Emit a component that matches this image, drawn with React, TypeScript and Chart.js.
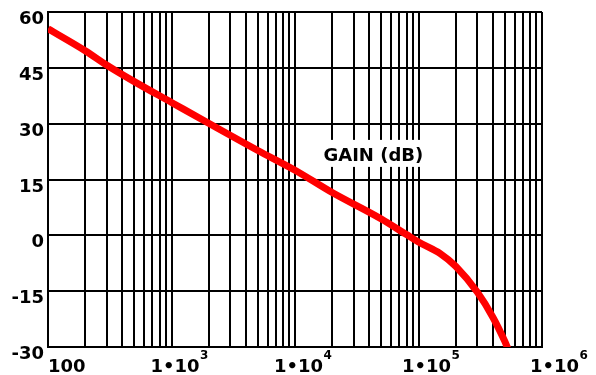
import React, { useEffect, useRef } from "react";
import { Chart, registerables } from "chart.js";

Chart.register(...registerables);

// Frequency (Hz) and gain (dB)
const FREQ = [100, 200, 300, 500, 1000, 2000, 5000, 10000, 20000, 50000, 80000, 100000, 150000, 200000, 300000, 400000, 500000, 530000];
const GAIN_DB = [55.5, 49.6, 45.7, 41.3, 35.7, 30.1, 22.8, 17.5, 11.5, 4.4, 0.2, -1.8, -4.9, -8.3, -15.3, -22, -28.5, -30.5];

// Axis tick labels
const X_TICK_VALUES = [100, 1000, 10000, 100000, 1000000];
const X_TICK_BASE = ["100", "1\u202210", "1\u202210", "1\u202210", "1\u202210"];
const X_TICK_EXP = ["", "3", "4", "5", "6"];
const Y_TICK_VALUES = [60, 45, 30, 15, 0, -15, -30];

const SERIES_LABEL = "GAIN (dB)";
const SERIES_LABEL_AT = { f: 17000, db: 20 };

const FONT = "'DejaVu Sans', Verdana, sans-serif";

export default function App() {
  const ref = useRef<HTMLCanvasElement | null>(null);

  useEffect(() => {
    const canvas = ref.current;
    if (!canvas) return;

    const gridValues: number[] = [];
    for (let e = 2; e < 6; e++) {
      for (let m = 1; m < 10; m++) gridValues.push(m * Math.pow(10, e));
    }
    gridValues.push(1e6);

    const labelPlugin = {
      id: "labels",
      afterDraw(chart: any) {
        const ctx = chart.ctx;
        const xs = chart.scales.x;
        const ys = chart.scales.y;
        ctx.save();
        ctx.fillStyle = "#000";
        // y labels
        ctx.font = `bold 18px ${FONT}`;
        ctx.textAlign = "right";
        ctx.textBaseline = "alphabetic";
        Y_TICK_VALUES.forEach((v) => {
          ctx.fillText(String(v), 44, ys.getPixelForValue(v) + 12);
        });
        // x labels
        const startOffsets = [0, -21, -21, -16.5, -12];
        ctx.textAlign = "left";
        X_TICK_VALUES.forEach((v, i) => {
          const px = xs.getPixelForValue(v) + startOffsets[i];
          const base = chart.chartArea.bottom + 25;
          ctx.font = `bold 18px ${FONT}`;
          ctx.fillText(X_TICK_BASE[i], px, base);
          const w = ctx.measureText(X_TICK_BASE[i]).width;
          if (X_TICK_EXP[i]) {
            ctx.font = `bold 12px ${FONT}`;
            ctx.fillText(X_TICK_EXP[i], px + w + 0.5, base - 13);
          }
        });
        // series label with white backing
        const lx = xs.getPixelForValue(SERIES_LABEL_AT.f);
        const ly = ys.getPixelForValue(SERIES_LABEL_AT.db);
        ctx.font = `bold 18px ${FONT}`;
        const tw = ctx.measureText(SERIES_LABEL).width;
        ctx.fillStyle = "#fff";
        ctx.fillRect(lx - 3, ly - 21, tw + 6, 27);
        ctx.fillStyle = "#000";
        ctx.fillText(SERIES_LABEL, lx, ly);
        ctx.restore();
      },
    };

    const chart = new Chart(canvas, {
      type: "line",
      data: {
        datasets: [
          {
            label: SERIES_LABEL,
            data: FREQ.map((f, i) => ({ x: f, y: GAIN_DB[i] })),
            borderColor: "#ff0000",
            backgroundColor: "#ff0000",
            borderWidth: 7,
            pointRadius: 0,
            cubicInterpolationMode: "monotone",
            fill: false,
          },
        ],
      },
      options: {
        responsive: false,
        animation: false,
        devicePixelRatio: 1,
        layout: { padding: { left: 48, top: 12, right: 54, bottom: 28 } },
        plugins: { legend: { display: false }, tooltip: { enabled: false } },
        scales: {
          x: {
            type: "logarithmic",
            min: 100,
            max: 1000000,
            afterBuildTicks: (scale: any) => {
              scale.ticks = gridValues.map((v) => ({ value: v }));
            },
            ticks: { display: false },
            grid: { color: "#000", lineWidth: 2, drawTicks: false },
            border: { color: "#000", width: 2 },
          },
          y: {
            type: "linear",
            min: -30,
            max: 60,
            ticks: { display: false, stepSize: 15 },
            grid: { color: "#000", lineWidth: 2, drawTicks: false },
            border: { color: "#000", width: 2 },
          },
        },
      },
      plugins: [labelPlugin],
    } as any);

    return () => chart.destroy();
  }, []);

  return (
    <div style={{ position: "fixed", left: 0, top: 0, width: 596, height: 375, background: "#fff" }}>
      <canvas ref={ref} width={596} height={375} style={{ display: "block", width: 596, height: 375 }} />
    </div>
  );
}
